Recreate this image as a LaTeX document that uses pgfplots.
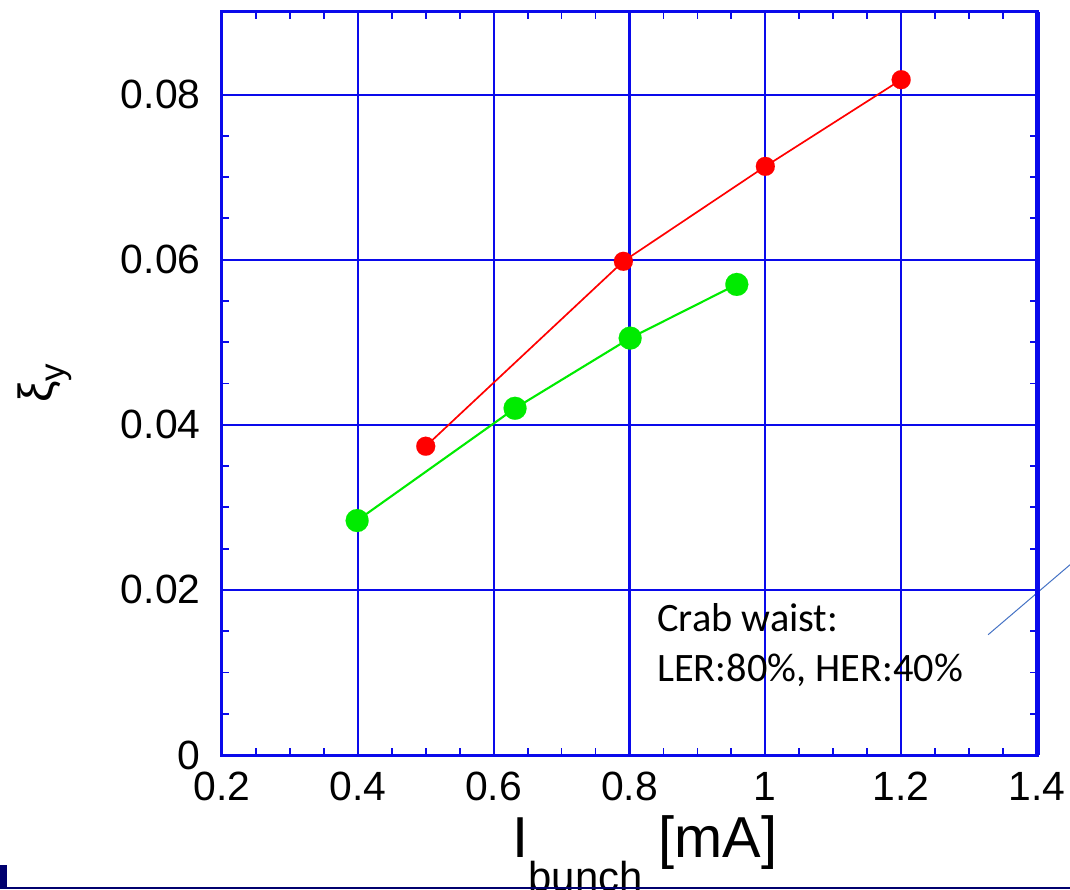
\documentclass[border=0pt]{standalone}
\usepackage{pgfplots}
\pgfplotsset{compat=1.18}
\usepackage{fontspec}
\setmainfont{Liberation Sans}
\newfontfamily\carlito{Carlito}
\definecolor{gblue}{RGB}{10,10,235}
\definecolor{pred}{RGB}{255,0,0}
\definecolor{pgreen}{RGB}{0,235,0}
\definecolor{navy}{RGB}{0,0,110}
\definecolor{lblue}{RGB}{68,114,196}
\begin{document}
\begin{tikzpicture}
\useasboundingbox (-222bp,-135bp) rectangle (848bp,755bp);
\begin{axis}[
  at={(0,0)}, anchor=south west,
  scale only axis, width=815bp, height=743bp,
  xmin=0.2, xmax=1.4, ymin=0, ymax=0.09,
  xtick={0.2,0.4,0.6,0.8,1.0,1.2,1.4},
  ytick={0,0.02,0.04,0.06,0.08},
  scaled x ticks=false, scaled y ticks=false,
  minor x tick num=3, minor y tick num=3,
  grid=none,
  axis line style={draw=gblue, line width=3bp},
  tick style={draw=gblue, line width=1.8bp},
  tick align=inside,
  major tick length=7bp, minor tick length=7bp,
  /pgf/number format/assume math mode=true,
  /pgf/number format/fixed, /pgf/number format/precision=2,
  ticklabel style={font=\fontsize{41}{41}\selectfont},
  xticklabel style={anchor=center, yshift=-31bp},
  yticklabel style={anchor=east, xshift=-18bp},
  clip=false,
  xlabel={I\raisebox{-0.6em}{\fontsize{42}{42}\selectfont bunch} [mA]},
  xlabel style={at={(axis description cs:0.519,0)}, anchor=base, yshift=-102bp, font=\fontsize{58}{58}\selectfont},
  ylabel={ξ\raisebox{-0.25em}{\fontsize{35}{35}\selectfont y}},
  ylabel style={at={(axis description cs:-0.218,0.50)}, anchor=center, font=\fontsize{48}{48}\selectfont},
]
% grid lines
\draw[gblue, line width=2.1bp] (axis cs:0.4,0) -- (axis cs:0.4,0.09);
\draw[gblue, line width=2.1bp] (axis cs:0.6,0) -- (axis cs:0.6,0.09);
\draw[gblue, line width=2.1bp] (axis cs:0.8,0) -- (axis cs:0.8,0.09);
\draw[gblue, line width=2.1bp] (axis cs:1.0,0) -- (axis cs:1.0,0.09);
\draw[gblue, line width=2.1bp] (axis cs:1.2,0) -- (axis cs:1.2,0.09);
\draw[gblue, line width=2.1bp] (axis cs:0.2,0.02) -- (axis cs:1.4,0.02);
\draw[gblue, line width=2.1bp] (axis cs:0.2,0.04) -- (axis cs:1.4,0.04);
\draw[gblue, line width=2.1bp] (axis cs:0.2,0.06) -- (axis cs:1.4,0.06);
\draw[gblue, line width=2.1bp] (axis cs:0.2,0.08) -- (axis cs:1.4,0.08);
\addplot[pred, line width=1.7bp, mark=*, mark size=9.5bp, mark options={fill=pred, draw=pred, line width=0.1bp}] coordinates {
  (0.5,0.0374) (0.791,0.0598) (1.0,0.0713) (1.2,0.0818)
};
\addplot[pgreen, line width=2.1bp, mark=*, mark size=11.5bp, mark options={fill=pgreen, draw=pgreen, line width=0.1bp}] coordinates {
  (0.399,0.0284) (0.6315,0.0420) (0.801,0.0505) (0.958,0.0570)
};
\node[anchor=base west, inner sep=0, font=\carlito\fontsize{40.5}{40.5}\selectfont] at (axis cs:0.8406,0.01493) {Crab waist:};
\node[anchor=base west, inner sep=0, font=\carlito\fontsize{40.5}{40.5}\selectfont] at (axis cs:0.8406,0.00886) {LER:80\%, HER:40\%};
\draw[lblue, line width=1bp] (axis cs:1.328,0.01457) -- (axis cs:1.449,0.02307);
\draw[gblue, line width=5bp] (rel axis cs:1,0) -- (rel axis cs:1,1);
\end{axis}
\draw[navy, line width=2bp] (-222bp,-133bp) -- (848bp,-133bp);
\fill[navy] (-222bp,-133bp) rectangle (-215bp,-110bp);
\end{tikzpicture}
\end{document}
